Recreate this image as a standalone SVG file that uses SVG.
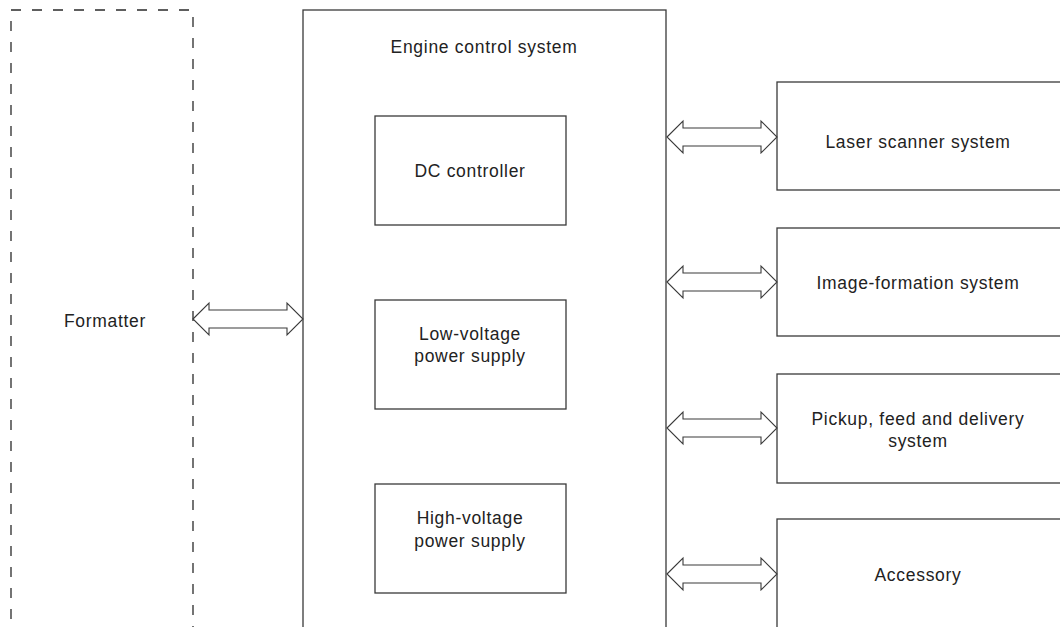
<svg xmlns="http://www.w3.org/2000/svg" width="1060" height="627" viewBox="0 0 1060 627">
<style>
.box{fill:#fff;stroke:#3a3a3a;stroke-width:1.3}
.dash{fill:none;stroke:#2a2a2a;stroke-width:1.3;stroke-dasharray:10 11}
.arr{fill:#fff;stroke:#3a3a3a;stroke-width:1.1;stroke-linejoin:miter}
text{font-family:"Liberation Sans","DejaVu Sans",sans-serif;font-size:17.5px;letter-spacing:0.7px;fill:#222;text-anchor:middle}
</style>
<defs>
<path id="dblR" d="M0,0 L16,-16 L16,-9 L94,-9 L94,-16 L110,0 L94,16 L94,9 L16,9 L16,16 Z"/>
</defs>
<rect width="1060" height="627" fill="#fff"/>
<g id="formatter">
<path class="dash" d="M11,640 L11,10 L193,10 L193,640"/>
<text x="105" y="327">Formatter</text>
</g>
<g id="engine">
<rect class="box" x="303" y="10" width="363" height="640"/>
<text x="484" y="53">Engine control system</text>
</g>
<g id="dc">
<rect class="box" x="375" y="116" width="191" height="109"/>
<text x="470" y="177">DC controller</text>
</g>
<g id="lv">
<rect class="box" x="375" y="300" width="191" height="109"/>
<text x="470" y="340">Low-voltage</text>
<text x="470" y="362">power supply</text>
</g>
<g id="hv">
<rect class="box" x="375" y="484" width="191" height="109"/>
<text x="470" y="524">High-voltage</text>
<text x="470" y="547">power supply</text>
</g>
<g id="laser">
<rect class="box" x="777" y="82" width="300" height="108"/>
<text x="918" y="148">Laser scanner system</text>
</g>
<g id="image">
<rect class="box" x="777" y="228" width="300" height="108"/>
<text x="918" y="289">Image-formation system</text>
</g>
<g id="pickup">
<rect class="box" x="777" y="374" width="300" height="109"/>
<text x="918" y="425">Pickup, feed and delivery</text>
<text x="918" y="447">system</text>
</g>
<g id="accessory">
<rect class="box" x="777" y="519" width="300" height="120"/>
<text x="918" y="581">Accessory</text>
</g>
<g id="connectors">
<use href="#dblR" class="arr" transform="translate(193,319)"/>
<use href="#dblR" class="arr" transform="translate(667,137)"/>
<use href="#dblR" class="arr" transform="translate(667,282)"/>
<use href="#dblR" class="arr" transform="translate(667,428)"/>
<use href="#dblR" class="arr" transform="translate(667,574)"/>
</g>
</svg>
